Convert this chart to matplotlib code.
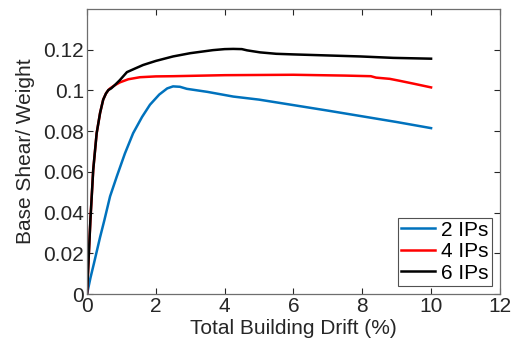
import matplotlib.pyplot as plt

plt.rcParams["font.family"] = ["Liberation Sans", "DejaVu Sans"]

# pushover curves: drift (%) vs. base shear / weight
drift_2ip = [0, 0.05, 0.1, 0.2, 0.38, 0.5, 0.67, 0.87, 1.1, 1.34, 1.6, 1.83, 2.1, 2.33, 2.5, 2.7, 2.9, 3.5, 4.25, 5.0, 6.0, 7.0, 8.0, 9.0, 10.0]
shear_2ip = [0, 0.004, 0.008, 0.015, 0.028, 0.036, 0.048, 0.058, 0.069, 0.079, 0.087, 0.093, 0.098, 0.101, 0.102, 0.1018, 0.1008, 0.0993, 0.097, 0.0955, 0.0928, 0.0901, 0.0873, 0.0845, 0.0815]

drift_4ip = [0, 0.04, 0.1, 0.18, 0.28, 0.38, 0.47, 0.55, 0.62, 0.67, 0.8, 0.96, 1.2, 1.54, 2.0, 2.5, 4.0, 6.0, 7.5, 8.25, 8.4, 8.8, 9.1, 9.5, 10.0]
shear_4ip = [0, 0.015, 0.037, 0.061, 0.079, 0.089, 0.0955, 0.0985, 0.1002, 0.101, 0.1025, 0.104, 0.1055, 0.1065, 0.1069, 0.107, 0.1075, 0.1077, 0.1073, 0.107, 0.1063, 0.1057, 0.1047, 0.1033, 0.1015]

drift_6ip = [0, 0.04, 0.1, 0.18, 0.28, 0.38, 0.47, 0.55, 0.62, 0.7, 0.8, 0.95, 1.16, 1.4, 1.63, 2.0, 2.5, 3.0, 3.66, 4.0, 4.25, 4.5, 4.65, 5.03, 5.5, 6.0, 6.97, 7.94, 8.9, 10.0]
shear_6ip = [0, 0.015, 0.037, 0.061, 0.079, 0.089, 0.0955, 0.0985, 0.1002, 0.101, 0.1025, 0.105, 0.109, 0.1108, 0.1125, 0.1145, 0.1167, 0.1183, 0.1198, 0.1203, 0.1204, 0.1203, 0.1197, 0.1187, 0.118, 0.1177, 0.1172, 0.1167, 0.116, 0.1156]

x_ticks = [0, 2, 4, 6, 8, 10, 12]
y_ticks = [0, 0.02, 0.04, 0.06, 0.08, 0.1, 0.12]
y_tick_labels = ["0", "0.02", "0.04", "0.06", "0.08", "0.1", "0.12"]

fig = plt.figure(figsize=(5.18, 3.46), dpi=100)
ax = fig.add_axes([0.168, 0.150, 0.797, 0.824])

ax.plot(drift_2ip, shear_2ip, color="#0072BD", lw=1.8, label="2 IPs")
ax.plot(drift_4ip, shear_4ip, color="#FF0000", lw=1.8, label="4 IPs")
ax.plot(drift_6ip, shear_6ip, color="black", lw=1.8, label="6 IPs")

ax.set_xlim(0, 12)
ax.set_ylim(0, 0.14)
ax.set_xticks(x_ticks)
ax.set_yticks(y_ticks)
ax.set_yticklabels(y_tick_labels)

axis_color = "#262626"
ax.tick_params(direction="in", top=True, right=True, length=4, width=0.8,
               labelsize=15, colors=axis_color, pad=2)
for sp in ax.spines.values():
    sp.set_color("#6e6e6e")
    sp.set_linewidth(0.9)

ax.set_xlabel("Total Building Drift (%)", fontsize=15, color=axis_color, labelpad=2)
ax.set_ylabel("Base Shear/ Weight", fontsize=15, color=axis_color, labelpad=6)

leg = ax.legend(loc="lower right", fontsize=15, frameon=True, fancybox=False,
                borderpad=0.15, labelspacing=0.12, handlelength=1.6,
                handletextpad=0.3, borderaxespad=0.4)
leg.get_frame().set_edgecolor("#262626")
leg.get_frame().set_linewidth(0.8)

fig.savefig("out.png", dpi=100)
